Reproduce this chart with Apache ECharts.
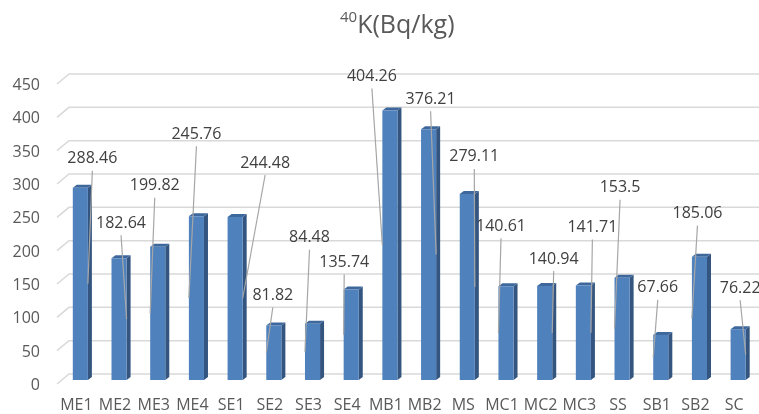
<!DOCTYPE html>
<html>
<head>
<meta charset="utf-8">
<script src="https://cdn.jsdelivr.net/npm/echarts@6/dist/echarts.min.js"></script>
<style>
  html, body { margin: 0; padding: 0; background: #ffffff; }
  #chart { width: 759px; height: 414px; }
</style>
</head>
<body>
<div id="chart"></div>
<script>
// Sample sites and their 40K activity concentrations (Bq/kg)
const categories = ['ME1', 'ME2', 'ME3', 'ME4', 'SE1', 'SE2', 'SE3', 'SE4', 'MB1', 'MB2',
                    'MS', 'MC1', 'MC2', 'MC3', 'SS', 'SB1', 'SB2', 'SC'];
const k40 = [288.46, 182.64, 199.82, 245.76, 244.48, 81.82, 84.48, 135.74, 404.26, 376.21,
             279.11, 140.61, 140.94, 141.71, 153.5, 67.66, 185.06, 76.22];
const yTicks = [0, 50, 100, 150, 200, 250, 300, 350, 400, 450];

// Callout placement per column: label offset from the column top [dx, dy]
// and which edge of the column the leader line points to (-1 left, +1 right)
const calloutPlacement = [
  [12, -30, 1], [2, -36, 1], [-3, -62, -1], [0, -83, -1], [30, -55, 1], [-1, -31, -1],
  [-3, -87, -1], [-7, -28, -1], [-18, -35, -1], [2, -31, 1], [7, -38, 1], [-5, -61, -1],
  [9, -28, 1], [9, -59, 1], [-2, -91, -1], [-3, -48, -1], [-2, -44, -1], [2, -42, 1]
];

const FONT = '"Open Sans", "Noto Sans", sans-serif';
const FRONT = '#4f81bd', SIDE = '#34557f', TOP = '#3e689c';
const DEPTH = [4, -3];

const chart = echarts.init(document.getElementById('chart'));

// back-wall gridlines with the slanted floor/side-wall edge at the left
function renderGridline(params, api) {
  const y = api.coord([0, api.value(1)])[1];
  const cs = params.coordSys;
  return {
    type: 'polyline',
    shape: { points: [[cs.x - 4, y + 4], [cs.x + 8, y - 6], [api.getWidth(), y - 6]] },
    style: { stroke: '#d9d9d9', lineWidth: 1.5, fill: null },
    silent: true
  };
}

// 3D-looking column: front face, darker side face and top face
function renderColumn(params, api) {
  const i = api.value(0), v = api.value(1);
  const base = api.coord([i, 0]);
  const top = api.coord([i, v]);
  const w = api.size([1, 0])[0] * 0.39;
  const x0 = base[0] - w / 2, x1 = base[0] + w / 2;
  const [dx, dy] = DEPTH;
  return {
    type: 'group',
    children: [
      {
        type: 'polygon',
        shape: { points: [[x1, top[1]], [x1 + dx, top[1] + dy], [x1 + dx, base[1] + dy], [x1, base[1]]] },
        style: { fill: SIDE }
      },
      {
        type: 'polygon',
        shape: { points: [[x0, top[1]], [x0 + dx, top[1] + dy], [x1 + dx, top[1] + dy], [x1, top[1]]] },
        style: { fill: TOP }
      },
      {
        type: 'rect',
        shape: { x: x0, y: top[1], width: w, height: base[1] - top[1] },
        style: { fill: FRONT }
      }
    ]
  };
}

// value label with a leader line running to the middle of the column edge
function renderCallout(params, api) {
  const i = api.value(0), v = api.value(1);
  const base = api.coord([i, 0]);
  const top = api.coord([i, v]);
  const w = api.size([1, 0])[0] * 0.39;
  const [ox, oy, side] = calloutPlacement[i];
  const tx = base[0] + ox, ty = top[1] + oy;
  return {
    type: 'group',
    children: [
      {
        type: 'line',
        shape: { x1: tx, y1: ty + 13, x2: base[0] + side * w / 2, y2: (base[1] + top[1]) / 2 },
        style: { stroke: '#a6a6a6', lineWidth: 1.2 }
      },
      {
        type: 'text',
        x: tx, y: ty + 1,
        style: {
          text: String(v), fontFamily: FONT, fontSize: 16, fill: '#404040',
          align: 'center', verticalAlign: 'middle'
        }
      }
    ]
  };
}

const points = k40.map((v, i) => [i, v]);

chart.setOption({
  animation: false,
  backgroundColor: '#ffffff',
  title: {
    text: '{sup|40}{main|K(Bq/kg)}',
    left: 335,
    top: 5,
    textStyle: {
      fontWeight: 'normal',
      rich: {
        sup: { fontFamily: FONT, fontSize: 15, fontWeight: 'normal', color: '#595959', verticalAlign: 'top', lineHeight: 16 },
        main: { fontFamily: FONT, fontSize: 25, fontWeight: 'normal', color: '#595959', lineHeight: 32 }
      }
    }
  },
  grid: { left: 61, right: 1.5, top: 80, bottom: 34 },
  xAxis: {
    type: 'category',
    data: categories,
    axisLine: { show: false },
    axisTick: { show: false },
    axisLabel: {
      fontFamily: FONT, fontSize: 16, color: '#595959', margin: 17,
      padding: [0, 8, 0, 0], interval: 0
    }
  },
  yAxis: {
    type: 'value',
    min: 0, max: 450, interval: 50,
    axisLine: { show: false },
    axisTick: { show: false },
    splitLine: { show: false },
    axisLabel: {
      margin: 21,
      formatter: '{t|{value}}',
      rich: {
        t: { fontFamily: FONT, fontSize: 16, color: '#595959', padding: [11, 0, 0, 0] }
      }
    }
  },
  series: [
    {
      type: 'custom',
      renderItem: renderGridline,
      data: yTicks.map(v => [0, v]),
      z: 1, silent: true, clip: false
    },
    {
      type: 'custom',
      renderItem: renderColumn,
      data: points,
      z: 2, clip: false
    },
    {
      type: 'custom',
      renderItem: renderCallout,
      data: points,
      z: 3, clip: false
    }
  ]
});
</script>
</body>
</html>
